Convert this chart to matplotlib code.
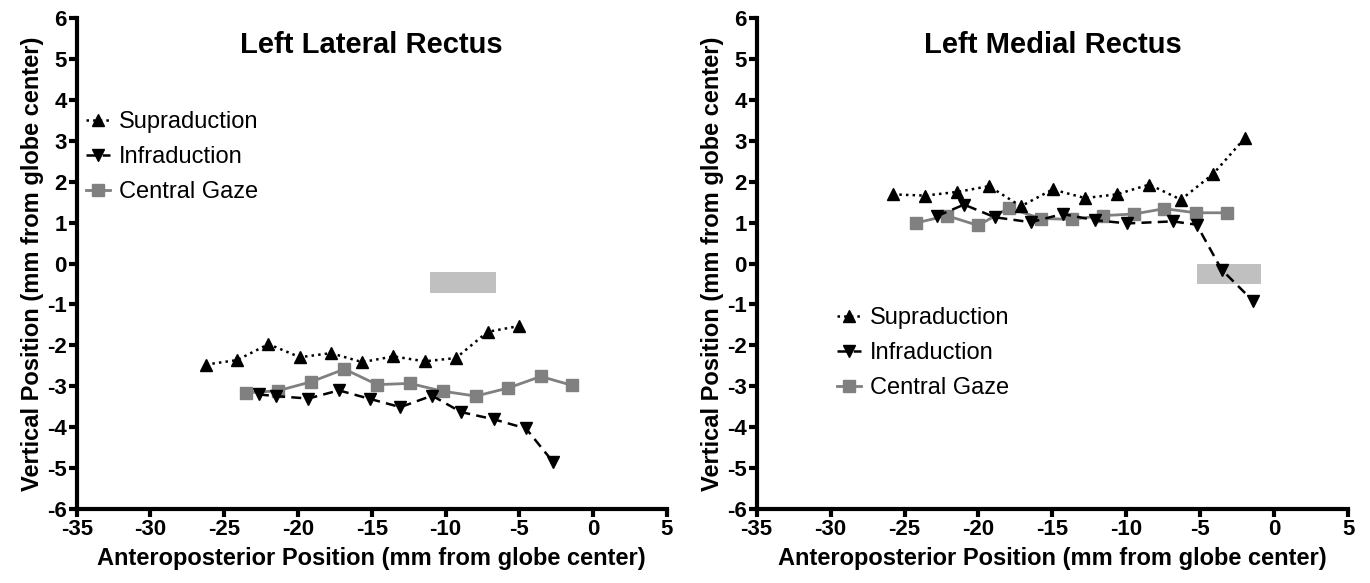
import matplotlib.pyplot as plt
from matplotlib.patches import Rectangle

plt.rcParams['font.family'] = ['Liberation Sans', 'DejaVu Sans']
plt.rcParams['axes.unicode_minus'] = False

# Left Lateral Rectus
ll_sup_x = [-26.25, -24.13, -22.0, -19.87, -17.77, -15.65, -13.53, -11.41, -9.29, -7.15, -5.05]
ll_sup_y = [-2.47, -2.36, -1.97, -2.29, -2.19, -2.41, -2.27, -2.39, -2.31, -1.67, -1.53]
ll_inf_x = [-22.65, -21.52, -19.3, -17.23, -15.11, -13.06, -10.91, -8.95, -6.7, -4.55, -2.71]
ll_inf_y = [-3.2, -3.24, -3.3, -3.1, -3.31, -3.51, -3.23, -3.63, -3.81, -4.03, -4.85]
ll_cen_x = [-23.5, -21.36, -19.1, -16.85, -14.63, -12.43, -10.2, -7.94, -5.73, -3.54, -1.4]
ll_cen_y = [-3.16, -3.11, -2.89, -2.58, -2.96, -2.93, -3.12, -3.24, -3.04, -2.76, -2.98]
ll_box = [-11.05, -6.6, -0.73, -0.2]  # x0, x1, y0, y1

# Left Medial Rectus
lm_sup_x = [-25.8, -23.62, -21.44, -19.29, -17.13, -14.99, -12.8, -10.66, -8.45, -6.31, -4.13, -1.98]
lm_sup_y = [1.69, 1.66, 1.75, 1.89, 1.40, 1.81, 1.60, 1.69, 1.93, 1.56, 2.19, 3.07]
lm_inf_x = [-22.79, -20.98, -18.89, -16.47, -14.31, -12.13, -9.94, -6.87, -5.25, -3.56, -1.42]
lm_inf_y = [1.16, 1.44, 1.13, 1.01, 1.21, 1.06, 0.98, 1.03, 0.95, -0.15, -0.92]
lm_cen_x = [-24.23, -22.15, -20.02, -17.94, -15.8, -13.7, -11.61, -9.49, -7.44, -5.3, -3.22]
lm_cen_y = [0.99, 1.17, 0.93, 1.36, 1.10, 1.08, 1.17, 1.21, 1.34, 1.24, 1.24]
lm_box = [-5.2, -0.9, -0.5, 0.0]

xticks = list(range(-35, 6, 5))
yticks = list(range(-6, 7))

fig = plt.figure(figsize=(13.7, 5.83), dpi=100)
ax1 = fig.add_axes([0.0560, 0.1269, 0.4307, 0.8422])
ax2 = fig.add_axes([0.5523, 0.1269, 0.4318, 0.8422])


def draw(ax, title, sx, sy, ix, iy, cx, cy, box, leg_anchor):
    ax.add_patch(Rectangle((box[0], box[2]), box[1] - box[0], box[3] - box[2],
                           facecolor='#c0c0c0', edgecolor='none', zorder=1))
    ax.plot(sx, sy, linestyle=':', color='black', lw=1.8, marker='^', ms=9,
            label='Supraduction', zorder=3)
    ax.plot(ix, iy, linestyle=(0, (4, 2.5)), color='black', lw=1.8, marker='v', ms=9,
            label='Infraduction', zorder=3)
    ax.plot(cx, cy, linestyle='-', color='#808080', lw=2, marker='s', ms=9,
            label='Central Gaze', zorder=2)
    ax.set_xlim(-35, 5)
    ax.set_ylim(-6, 6)
    ax.set_xticks(xticks)
    ax.set_yticks(yticks)
    for s in ['top', 'right']:
        ax.spines[s].set_visible(False)
    for s in ['left', 'bottom']:
        ax.spines[s].set_linewidth(3)
    ax.tick_params(width=3, length=6, labelsize=16, pad=1)
    for lab in ax.get_xticklabels() + ax.get_yticklabels():
        lab.set_fontweight('bold')
    ax.set_xlabel('Anteroposterior Position (mm from globe center)',
                  fontsize=17, fontweight='bold', labelpad=5)
    ax.set_ylabel('Vertical Position (mm from globe center)',
                  fontsize=17, fontweight='bold', labelpad=2)
    ax.text(0.5, 0.945, title, transform=ax.transAxes, ha='center', va='center',
            fontsize=21, fontweight='bold')
    ax.legend(loc='upper left', bbox_to_anchor=leg_anchor, frameon=False,
              fontsize=17, handlelength=1.0, handletextpad=0.4, labelspacing=0.55,
              borderaxespad=0)


draw(ax1, 'Left Lateral Rectus', ll_sup_x, ll_sup_y, ll_inf_x, ll_inf_y,
     ll_cen_x, ll_cen_y, ll_box, (0.0, 0.83))
draw(ax2, 'Left Medial Rectus', lm_sup_x, lm_sup_y, lm_inf_x, lm_inf_y,
     lm_cen_x, lm_cen_y, lm_box, (0.12, 0.43))

fig.savefig('out.png', dpi=100)
